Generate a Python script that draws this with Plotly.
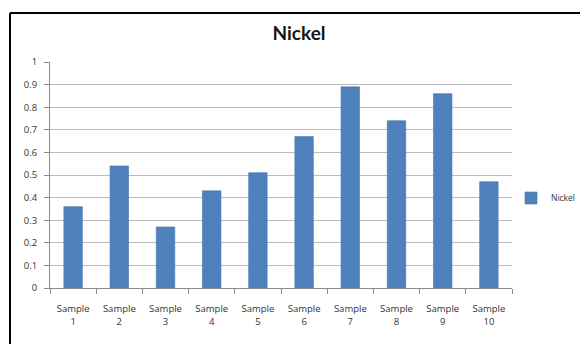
import plotly.graph_objects as go

# Nickel concentration per sample
categories = ["Sample<br>1", "Sample<br>2", "Sample<br>3", "Sample<br>4", "Sample<br>5",
              "Sample<br>6", "Sample<br>7", "Sample<br>8", "Sample<br>9", "Sample<br>10"]
nickel = [0.36, 0.54, 0.27, 0.43, 0.51, 0.67, 0.89, 0.74, 0.86, 0.47]
y_ticks = [0, 0.1, 0.2, 0.3, 0.4, 0.5, 0.6, 0.7, 0.8, 0.9, 1]
y_tick_text = ["0", "0.1", "0.2", "0.3", "0.4", "0.5", "0.6", "0.7", "0.8", "0.9", "1"]

W, H = 580, 344
L, R, T, B = 50, 68, 62, 56
pw, ph = W - L - R, H - T - B

def px_to_paper_x(px):
    return (px - L) / pw

def px_to_paper_y(py):
    return (H - B - py) / ph

fig = go.Figure()
fig.add_trace(go.Bar(
    x=categories, y=nickel, name="Nickel",
    marker=dict(color="#4F81BD", line=dict(color="#4474ad", width=0.6)),
    width=0.4, showlegend=True,
))

title_font = "Lato, 'Open Sans', sans-serif"
tick_font = "'Open Sans', Lato, sans-serif"
text_color = "#333333"

fig.update_layout(
    width=W, height=H,
    margin=dict(l=L, r=R, t=T, b=B, autoexpand=False),
    paper_bgcolor="white", plot_bgcolor="white",
    title=dict(text="<b>Nickel</b>", x=px_to_paper_x(299), xref="paper", xanchor="center",
               y=1 - 33 / H, yanchor="middle",
               font=dict(family=title_font, size=19, color="#151515")),
    showlegend=True,
    legend=dict(x=px_to_paper_x(511), y=px_to_paper_y(198), xanchor="left", yanchor="middle",
                font=dict(family=tick_font, size=8.5, color=text_color),
                itemwidth=30, bgcolor="rgba(0,0,0,0)"),
    font=dict(family=tick_font, size=9.5, color=text_color),
    bargap=0.6,
)

fig.update_xaxes(
    type="category", showline=True, linecolor="#8c8c8c", linewidth=1,
    ticks="outside", tickson="boundaries", ticklen=5, tickcolor="#8c8c8c",
    showgrid=False, tickfont=dict(family=tick_font, size=9.5, color=text_color),
    ticklabelstandoff=12,
)
fig.update_yaxes(
    range=[0, 1], tickvals=y_ticks, ticktext=y_tick_text,
    showline=True, linecolor="#8c8c8c", linewidth=1,
    ticks="outside", ticklen=5, tickcolor="#8c8c8c",
    showgrid=True, gridcolor="#bcbcbc", gridwidth=1.3,
    zeroline=False, tickfont=dict(family=tick_font, size=9.5, color=text_color),
    ticklabelstandoff=5,
)

# Chart frame running off the right and bottom edges
fig.add_shape(type="line", xref="paper", yref="paper",
              x0=px_to_paper_x(10), x1=px_to_paper_x(600),
              y0=px_to_paper_y(13), y1=px_to_paper_y(13),
              line=dict(color="black", width=2))
fig.add_shape(type="line", xref="paper", yref="paper",
              x0=px_to_paper_x(10), x1=px_to_paper_x(10),
              y0=px_to_paper_y(13), y1=px_to_paper_y(360),
              line=dict(color="black", width=2))

fig.write_html("out.html")
